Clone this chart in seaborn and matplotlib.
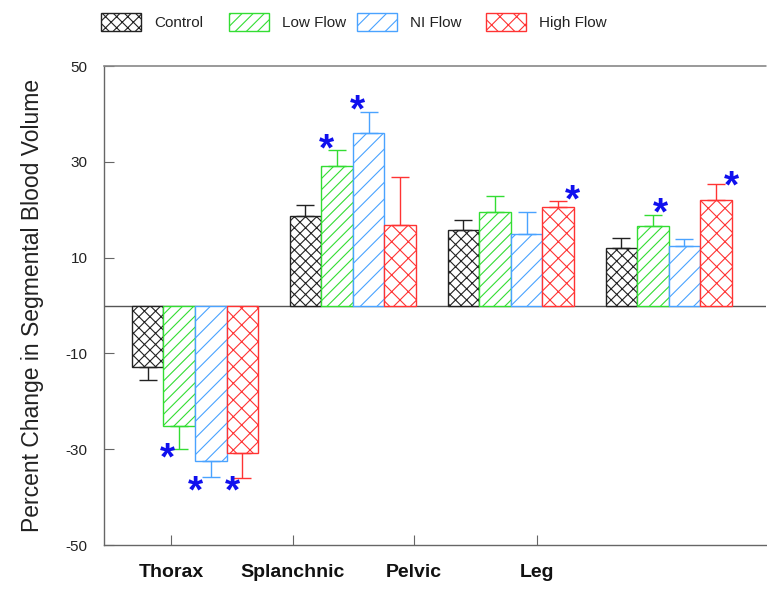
import numpy as np
import pandas as pd
import matplotlib
matplotlib.use("Agg")
import matplotlib.pyplot as plt
import matplotlib.patches as mpatches
import seaborn as sns

# ---------------------------------------------------------
# DATA
# ---------------------------------------------------------
regions = ["Thorax", "Splanchnic", "Pelvic", "Leg"]
groups = ["Control", "Low Flow", "NI Flow", "High Flow"]

control_mean = [-12.8, 18.7, 15.7, 12.0]
low_mean = [-25.1, 29.1, 19.6, 16.7]
ni_mean = [-32.4, 36.1, 14.9, 12.4]
high_mean = [-30.7, 16.8, 20.6, 22.0]

control_err = [2.8, 2.2, 2.2, 2.0]
low_err = [4.9, 3.3, 3.2, 2.3]
ni_err = [3.5, 4.4, 4.6, 1.5]
high_err = [5.4, 10.0, 1.3, 3.4]

# significance stars: (region, group)
star_region = ["Thorax", "Thorax", "Thorax", "Splanchnic", "Splanchnic", "Pelvic", "Leg", "Leg"]
star_group = ["Low Flow", "NI Flow", "High Flow", "Low Flow", "NI Flow", "High Flow", "Low Flow", "High Flow"]

yticks = [-50, -30, -10, 10, 30, 50]

# ---------------------------------------------------------
# STYLE
# ---------------------------------------------------------
colors = ["#222222", "#33dd33", "#4aa3ff", "#ff3333"]
hatches = ["xxx", "///", "//", "xx"]
# star placement relative to the error cap (fraction of bar width, offset in points)
star_dx = [-0.38, -0.48, -0.32, -0.32, -0.35, 0.44, 0.25, 0.48]
star_dy = [1.6, -1.7, -1.0, 9.0, 8.5, 8.0, 9.0, 6.0]

sns.set_style("ticks")
plt.rcParams["font.family"] = ["Liberation Sans", "DejaVu Sans"]
plt.rcParams["hatch.linewidth"] = 0.8

df = pd.DataFrame({
    "region": regions * 4,
    "group": np.repeat(groups, 4),
    "change": control_mean + low_mean + ni_mean + high_mean,
})
errs = {"Control": control_err, "Low Flow": low_err, "NI Flow": ni_err, "High Flow": high_err}

fig = plt.figure(figsize=(7.67, 5.89), dpi=100)
ax = fig.add_axes([0.1362, 0.0747, 0.862, 0.8132])

sns.barplot(data=df, x="region", y="change", hue="group", order=regions,
            hue_order=groups, palette=colors, errorbar=None, width=0.8,
            legend=False, ax=ax)

bar_x = {}
for g, cont, c, h in zip(groups, ax.containers, colors, hatches):
    xs, vals = [], []
    for bar in cont:
        bar.set_facecolor("white")
        bar.set_edgecolor(c)
        bar.set_hatch(h)
        bar.set_linewidth(1.0)
        if hasattr(bar, "set_hatchcolor"):
            bar.set_hatchcolor(c)
        xs.append(bar.get_x() + bar.get_width() / 2)
        vals.append(bar.get_height())
    bar_x[g] = xs
    e = np.array(errs[g])
    vals = np.array(vals)
    lower = np.where(vals < 0, e, 0)
    upper = np.where(vals > 0, e, 0)
    ax.errorbar(xs, vals, yerr=[lower, upper], fmt="none", ecolor=c,
                elinewidth=1.0, capsize=6.5, capthick=1.0, zorder=1)

bw = ax.containers[0][0].get_width()
means = {"Control": control_mean, "Low Flow": low_mean, "NI Flow": ni_mean, "High Flow": high_mean}
for r, g, dx, dy in zip(star_region, star_group, star_dx, star_dy):
    i = regions.index(r)
    v = means[g][i]
    end = v + np.sign(v) * errs[g][i]
    ax.annotate("*", xy=(bar_x[g][i] + dx * bw, end), xytext=(0, dy - 16),
                textcoords="offset points", ha="center", va="baseline",
                fontsize=28, fontweight="bold", color="#1010ee")

ax.axhline(0, color="#555555", lw=1.0, zorder=0.5)
ax.set_ylim(-50, 50)
ax.set_xlim(-0.573, 3.614)
ax.set_yticks(yticks)
ax.set_yticklabels([str(t) for t in yticks], fontsize=11, color="#222222")
ax.set_xticks([-0.152, 0.62, 1.386, 2.165])
ax.set_xticklabels(regions, fontsize=14, fontweight="bold", color="#111111")
ax.tick_params(axis="both", direction="in", length=7, width=0.8, color="#666666")
ax.tick_params(axis="x", pad=14)
ax.tick_params(axis="y", pad=12)
ax.set_xlabel("")
ax.set_ylabel("Percent Change in Segmental Blood Volume", fontsize=16.5,
              color="#222222", labelpad=16)

for s in ["left", "bottom"]:
    ax.spines[s].set_color("#666666")
    ax.spines[s].set_linewidth(1.0)
ax.spines["right"].set_visible(False)
ax.spines["top"].set_color("#888888")
ax.spines["top"].set_linestyle((0, (1, 1)))
ax.spines["top"].set_linewidth(1.2)

# legend entries spaced evenly along the top
for g, c, h, xpos in zip(groups, colors, hatches, [101, 229, 357, 486]):
    handle = mpatches.Patch(facecolor="white", edgecolor=c, hatch=h, linewidth=1.0)
    if hasattr(handle, "set_hatchcolor"):
        handle.set_hatchcolor(c)
    fig.legend(handles=[handle], labels=[g], loc="center left",
               bbox_to_anchor=(xpos / 767, 1 - 22 / 589), frameon=False,
               fontsize=11, handlelength=2.6, handleheight=1.35,
               handletextpad=0.9, borderpad=0, borderaxespad=0,
               labelcolor="#222222")

fig.savefig("out.png", dpi=100)
